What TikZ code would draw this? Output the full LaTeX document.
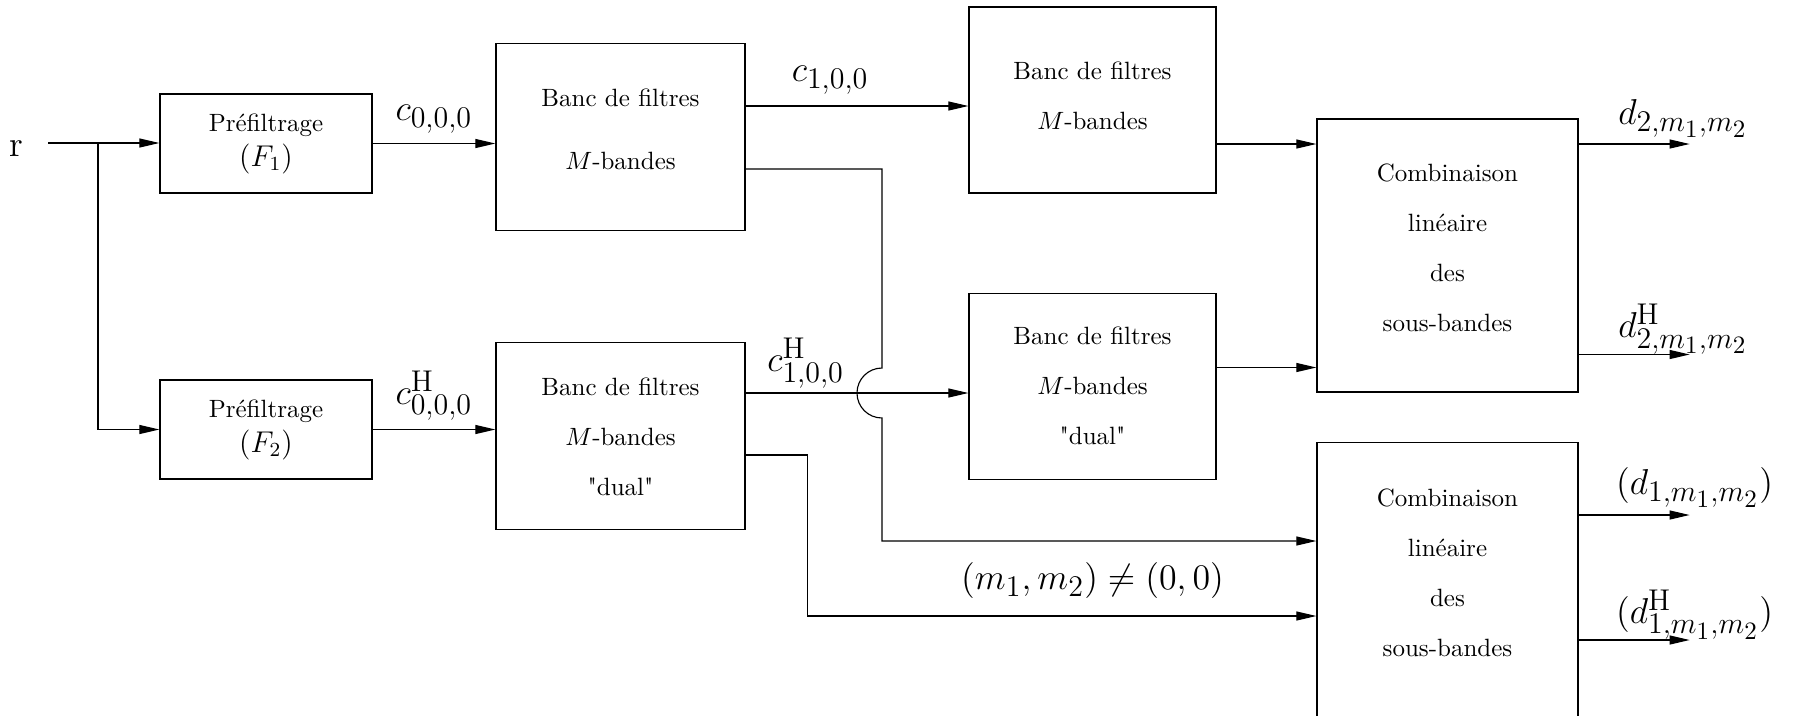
\documentclass[tikz,border=0pt]{standalone}
\usetikzlibrary{arrows.meta,calc}
\DeclareMathSizes{14.4}{14.4}{12}{10}
\font\quotefont="[lmroman10-regular]" at 10pt
\newcommand{\dq}{{\quotefont"}}

\tikzset{
  bloc/.style={draw, line width=0.5pt, align=center, inner sep=0pt},
  fleche/.style={-{Triangle[length=8pt,width=3.6pt]}, line width=0.45pt},
  sig/.style={font=\Large, inner sep=1pt},
}

\begin{document}
\begin{tikzpicture}[x=0.4pt, y=-0.4pt]
  \useasboundingbox (0,0) rectangle (1796,715);
  \clip (0,0) rectangle (1796,715);
  % Input signal
  \node[sig] (r) at (16,149) {r};
  \coordinate (in) at (48,143);
  \coordinate (br) at (98,143);
  % Prefilters
  \node[bloc, minimum width=84.8pt, minimum height=39.6pt] (pfA) at (266,143.5) {Préfiltrage\\[2pt]{\large$(F_1)$}};
  \node[bloc, minimum width=84.8pt, minimum height=39.6pt] (pfB) at (266,429.5) {Préfiltrage\\[2pt]{\large$(F_2)$}};
  % Filter banks
  \node[bloc, minimum width=99.6pt, minimum height=74.8pt] (bankA) at (620.5,137) {Banc de filtres\\[13pt]$M$-bandes\\[-5.6pt]\mbox{}};
  \node[bloc, minimum width=99.6pt, minimum height=74.8pt] (bankB) at (620.5,436) {\mbox{}\\[-4.6pt]Banc de filtres\\[8pt]$M$-bandes\\[8pt]\dq dual\dq};
  \node[bloc, minimum width=98.8pt, minimum height=74.4pt] (bankC) at (1092.5,100) {Banc de filtres\\[8pt]$M$-bandes\\[-8.4pt]\mbox{}};
  \node[bloc, minimum width=98.8pt, minimum height=74.4pt] (bankD) at (1092.5,386.5) {\mbox{}\\[-5.2pt]Banc de filtres\\[8pt]$M$-bandes\\[8pt]\dq dual\dq};
  % Linear combinations of the subbands
  \node[bloc, minimum width=104.4pt, minimum height=109.2pt] (combA) at (1447.5,255.5) {Combinaison\\[8pt]linéaire\\[8pt]des\\[8pt]sous-bandes\\[-5.6pt]\mbox{}};
  \node[bloc, minimum width=104.4pt, minimum height=116pt, anchor=north] (combB) at (1447.5,442) {Combinaison\\[8pt]linéaire\\[8pt]des\\[8pt]sous-bandes\\[0pt]\mbox{}};
  \coordinate (cbIn1) at ($(combB.north west)+(0,99)$);
  \coordinate (cbIn2) at ($(combB.north west)+(0,174)$);
  % Input to the prefilters
  \draw[fleche] (in) -- (in -| pfA.west);
  \draw[fleche] (br) |- (pfB.west);
  \draw[fleche] (pfA.east) -- (pfA.east -| bankA.west) node[sig, midway, above=2.8pt] {$c_{0,0,0}$};
  \draw[fleche] (pfB.east) -- (pfB.east -| bankB.west) node[sig, midway, above=2.4pt] {$c^{\mathrm{H}}_{0,0,0}$};
  % Banks to the second stage
  \coordinate (hop) at (882,393);
  \draw[fleche] ($(bankA.east)+(0,-31)$) coordinate (aOut) -- (aOut -| bankC.west) node[sig, pos=0.38, above=3.6pt] {$c_{1,0,0}$};
  \draw[fleche] (bankB.east |- hop) -- (hop -| bankD.west) node[sig, pos=0.27, above=0.8pt] {$c^{\mathrm{H}}_{1,0,0}$};
  % Crossing line with a hop
  \draw[fleche] ($(bankA.east)+(0,32)$) -| ($(hop)+(0,-25)$) arc[start angle=270, end angle=90, radius=25] |- (cbIn1);
  \draw[fleche] ($(bankB.east)+(0,19)$) -- ++(62,0) |- (cbIn2) node[sig, pos=0.78, above=5.8pt] {$(m_1,m_2)\neq(0,0)$};
  \draw[fleche] ($(bankC.east)+(0,44)$) coordinate (cOut) -- (cOut -| combA.west);
  \draw[fleche] ($(bankD.east)+(0,-19)$) coordinate (dOut) -- (dOut -| combA.west);
  % Outputs
  \draw[fleche] ($(combA.east)+(0,-111.5)$) -- ++(111,0) node[sig, pos=0.33, anchor=south west, yshift=1.4pt] {$d_{2,m_1,m_2}$};
  \draw[fleche] ($(combA.east)+(0,99)$) -- ++(111,0) node[sig, pos=0.33, anchor=south west, yshift=-1pt] {$d^{\mathrm{H}}_{2,m_1,m_2}$};
  \draw[fleche] ($(combB.north east)+(0,73)$) -- ++(111,0) node[sig, pos=0.31, anchor=south west, yshift=1.8pt] {$(d_{1,m_1,m_2})$};
  \draw[fleche] ($(combB.north east)+(0,198)$) -- ++(111,0) node[sig, pos=0.31, anchor=south west, yshift=-1pt] {$(d^{\mathrm{H}}_{1,m_1,m_2})$};
\end{tikzpicture}
\end{document}
